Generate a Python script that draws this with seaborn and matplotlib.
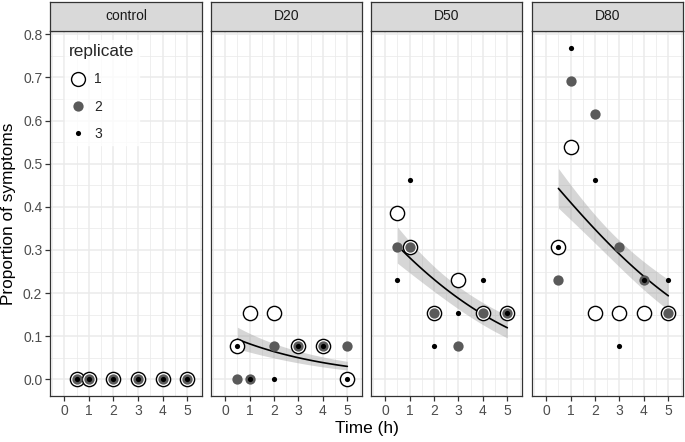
import numpy as np
import pandas as pd
import matplotlib
matplotlib.use("Agg")
import matplotlib.pyplot as plt
import seaborn as sns
from matplotlib.lines import Line2D
from matplotlib.ticker import MultipleLocator

sns.set_theme(style="white")
plt.rcParams['font.family'] = ['Liberation Sans', 'DejaVu Sans']

# ---------------- data ----------------
doses = ["control", "D20", "D50", "D80"]
times = [0.5, 1, 2, 3, 4, 5]
n_plants = 13  # proportions are counts out of 13

# proportion of symptoms per dose, per replicate, at each time
control_rep1 = [0, 0, 0, 0, 0, 0]
control_rep2 = [0, 0, 0, 0, 0, 0]
control_rep3 = [0, 0, 0, 0, 0, 0]

d20_rep1 = [1/13, 2/13, 2/13, 1/13, 1/13, 0]
d20_rep2 = [0, 0, 1/13, 1/13, 1/13, 1/13]
d20_rep3 = [1/13, 0, 0, 1/13, 1/13, 0]

d50_rep1 = [5/13, 4/13, 2/13, 3/13, 2/13, 2/13]
d50_rep2 = [4/13, 4/13, 2/13, 1/13, 2/13, 2/13]
d50_rep3 = [3/13, 6/13, 1/13, 2/13, 3/13, 2/13]

d80_rep1 = [4/13, 7/13, 2/13, 2/13, 2/13, 2/13]
d80_rep2 = [3/13, 9/13, 8/13, 4/13, 3/13, 2/13]
d80_rep3 = [4/13, 10/13, 6/13, 1/13, 3/13, 3/13]

replicates = ["1", "2", "3"]
values = {
    "control": [control_rep1, control_rep2, control_rep3],
    "D20": [d20_rep1, d20_rep2, d20_rep3],
    "D50": [d50_rep1, d50_rep2, d50_rep3],
    "D80": [d80_rep1, d80_rep2, d80_rep3],
}

rows = []
for d in doses:
    for r, vals in zip(replicates, values[d]):
        for t, v in zip(times, vals):
            rows.append(dict(dose=d, replicate=r, time=t, prop=v))
df = pd.DataFrame(rows)

# ------------- binomial GLM: dose intercepts + common time slope -------------
fit_doses = ["D20", "D50", "D80"]
sub = df[df.dose.isin(fit_doses)].reset_index(drop=True)
X = np.column_stack([(sub.dose == d).astype(float) for d in fit_doses] + [sub.time.values])
y = sub.prop.values
w = np.full(len(y), float(n_plants))
beta = np.zeros(X.shape[1])
for _ in range(50):
    eta = X @ beta
    mu = 1 / (1 + np.exp(-eta))
    W = w * mu * (1 - mu)
    z = eta + (y - mu) / (mu * (1 - mu))
    XtW = X.T * W
    beta_new = np.linalg.solve(XtW @ X, XtW @ z)
    if np.max(np.abs(beta_new - beta)) < 1e-10:
        beta = beta_new
        break
    beta = beta_new
eta = X @ beta
mu = 1 / (1 + np.exp(-eta))
cov = np.linalg.inv((X.T * (w * mu * (1 - mu))) @ X)

tgrid = np.linspace(0.5, 5, 80)
pred_rows = []
for i, d in enumerate(fit_doses):
    Xg = np.zeros((len(tgrid), X.shape[1]))
    Xg[:, i] = 1
    Xg[:, -1] = tgrid
    e = Xg @ beta
    se = np.sqrt(np.einsum("ij,jk,ik->i", Xg, cov, Xg))
    for t, ee, s in zip(tgrid, e, se):
        pred_rows.append(dict(dose=d, time=t,
                              fit=1 / (1 + np.exp(-ee)),
                              lo=1 / (1 + np.exp(-(ee - s))),
                              hi=1 / (1 + np.exp(-(ee + s)))))
pred = pd.DataFrame(pred_rows)

# ---------------- figure ----------------
W_PX, H_PX = 685, 442
fig = plt.figure(figsize=(W_PX / 100, H_PX / 100), dpi=100)
fig.patch.set_facecolor("white")

panel_x = [(50, 202), (211, 362), (371, 522), (532, 683)]
p_top, p_bot = 31, 396
s_top = 2

rep_styles = {
    "1": dict(s=105, color="white", edgecolor="black", linewidth=1.0),
    "2": dict(s=55, color="#5a5a5a", edgecolor="#5a5a5a", linewidth=0),
    "3": dict(s=14, color="black", edgecolor="black", linewidth=0),
}

grid_col = "#ebebeb"
border_col = "#333333"

axes = []
for k, (d, (x0, x1)) in enumerate(zip(doses, panel_x)):
    ax = fig.add_axes([x0 / W_PX, 1 - p_bot / H_PX, (x1 - x0) / W_PX, (p_bot - p_top) / H_PX])
    axes.append(ax)
    ax.set_facecolor("white")
    ax.set_xlim(-0.58, 5.6)
    ax.set_ylim(-0.0385, 0.8075)
    ax.xaxis.set_major_locator(MultipleLocator(1))
    ax.xaxis.set_minor_locator(MultipleLocator(0.5))
    ax.yaxis.set_major_locator(MultipleLocator(0.1))
    ax.yaxis.set_minor_locator(MultipleLocator(0.05))
    ax.grid(which="major", color=grid_col, linewidth=1.1, zorder=0)
    ax.grid(which="minor", color=grid_col, linewidth=0.55, zorder=0)
    ax.set_axisbelow(True)
    for sp in ax.spines.values():
        sp.set_color(border_col)
        sp.set_linewidth(0.9)
        sp.set_zorder(10)

    dsub = df[df.dose == d]
    for r in replicates:
        st = rep_styles[r]
        sns.scatterplot(data=dsub[dsub.replicate == r], x="time", y="prop", ax=ax,
                        s=st["s"], color=st["color"], edgecolor=st["edgecolor"],
                        linewidth=st["linewidth"], zorder=3 + int(r), legend=False)

    if d in fit_doses:
        ps = pred[pred.dose == d]
        ax.fill_between(ps.time, ps.lo, ps.hi, color="#999999", alpha=0.4, linewidth=0, zorder=2)
        sns.lineplot(data=ps, x="time", y="fit", ax=ax, color="black", linewidth=1.2, zorder=2.5)

    ax.set_xlabel("")
    ax.set_ylabel("")
    ax.set_xticks([0, 1, 2, 3, 4, 5])
    ax.tick_params(axis="both", which="major", length=3.5, width=0.9, color=border_col,
                   labelsize=10, labelcolor="#4d4d4d", pad=2, bottom=True, left=(k == 0))
    ax.tick_params(axis="both", which="minor", length=0)
    if k > 0:
        ax.set_yticklabels([])
        ax.tick_params(axis="y", which="both", left=False)
    else:
        ax.set_yticklabels([f"{v:.1f}" for v in ax.get_yticks()])

    # strip
    sax = fig.add_axes([x0 / W_PX, 1 - p_top / H_PX, (x1 - x0) / W_PX, (p_top - s_top) / H_PX])
    sax.set_facecolor("#d9d9d9")
    sax.set_xticks([])
    sax.set_yticks([])
    for sp in sax.spines.values():
        sp.set_color(border_col)
        sp.set_linewidth(0.9)
    sax.text(0.5, 0.5, d, ha="center", va="center", fontsize=10, color="#1a1a1a",
             transform=sax.transAxes)

fig.text(366.5 / W_PX, 1 - 428 / H_PX, "Time (h)", ha="center", va="center",
         fontsize=12.4, color="black")
fig.text(9 / W_PX, 1 - 213.5 / H_PX, "Proportion of symptoms", ha="center", va="center",
         rotation=90, fontsize=12.4, color="black")

handles = [
    Line2D([], [], marker="o", linestyle="", markersize=10, markerfacecolor="white",
           markeredgecolor="black", markeredgewidth=1.0),
    Line2D([], [], marker="o", linestyle="", markersize=7.4, markerfacecolor="#5a5a5a",
           markeredgewidth=0),
    Line2D([], [], marker="o", linestyle="", markersize=3.7, markerfacecolor="black",
           markeredgewidth=0),
]
ax0 = axes[0]
leg = ax0.legend(handles, replicates, title="replicate", loc="upper left",
                 bbox_to_anchor=((65 - 50) / 152, (396 - 40) / 365), borderaxespad=0,
                 frameon=True, fontsize=10, title_fontsize=12.4, labelspacing=0.95,
                 handletextpad=0.6, handlelength=1.2, borderpad=0.3, alignment="left")
leg.get_frame().set_facecolor("white")
leg.get_frame().set_edgecolor("white")
leg.get_frame().set_boxstyle("square", pad=0)
leg.set_zorder(20)

fig.savefig("out.png", dpi=100, facecolor="white")
